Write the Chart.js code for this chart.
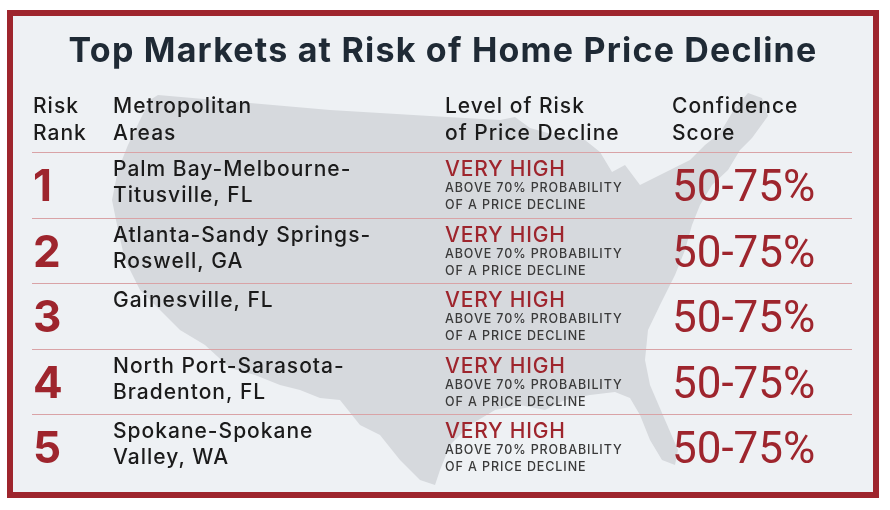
<!DOCTYPE html>
<html>
<head>
<meta charset="utf-8">
<script src="https://cdn.jsdelivr.net/npm/chart.js@4"></script>
<style>
  html, body { margin: 0; padding: 0; background: #fff; }
  #wrap { width: 890px; height: 510px; position: relative; }
</style>
</head>
<body>
<div id="wrap"><canvas id="riskChart"></canvas></div>
<script>
const chartTitle = 'Top Markets at Risk of Home Price Decline';
const headerLabels = [['Risk', 'Rank'], ['Metropolitan', 'Areas'], ['Level of Risk', 'of Price Decline'], ['Confidence', 'Score']];
const ranks = ['1', '2', '3', '4', '5'];
const metroAreas = [
    ['Palm Bay-Melbourne-', 'Titusville, FL'],
    ['Atlanta-Sandy Springs-', 'Roswell, GA'],
    ['Gainesville, FL'],
    ['North Port-Sarasota-', 'Bradenton, FL'],
    ['Spokane-Spokane', 'Valley, WA']
];
const riskLevels = ['VERY HIGH', 'VERY HIGH', 'VERY HIGH', 'VERY HIGH', 'VERY HIGH'];
const riskNotes = ['ABOVE 70% PROBABILITY', 'OF A PRICE DECLINE'];
const confidenceLow = [50, 50, 50, 50, 50];
const confidenceHigh = [75, 75, 75, 75, 75];

const RED = '#9e252d';
const DARK = '#1f2a35';
const FONT = 'Inter, "Noto Sans", sans-serif';

// rough outline of the lower 48, only used as a faded backdrop
const usOutline = [
    [158, 95], [250, 103], [330, 110], [430, 116], [500, 120], [515, 117], [530, 128], [555, 135],
    [585, 140], [600, 152], [612, 172], [625, 165], [640, 185], [660, 175], [690, 160], [705, 145],
    [720, 133], [735, 108], [748, 93], [762, 98], [768, 116], [752, 138], [740, 150], [728, 170],
    [712, 185], [700, 205], [692, 225], [685, 250], [675, 275], [660, 305], [648, 330], [645, 360],
    [650, 385], [665, 420], [678, 450], [675, 465], [662, 460], [650, 440], [640, 415], [630, 398],
    [615, 392], [590, 395], [565, 400], [545, 410], [520, 405], [495, 410], [470, 425], [450, 445],
    [440, 470], [435, 485], [420, 480], [400, 460], [380, 435], [360, 425], [340, 400], [320, 398],
    [300, 390], [280, 385], [255, 375], [230, 368], [205, 345], [180, 330], [160, 310], [140, 290],
    [125, 260], [118, 230], [112, 200], [118, 170], [128, 145], [140, 120], [150, 100]
];

function spaced(ctx, px) {
    if ('letterSpacing' in ctx) ctx.letterSpacing = px + 'px';
}

const tablePlugin = {
    id: 'tablePlugin',
    beforeDraw(chart) {
        const ctx = chart.ctx;
        ctx.save();
        ctx.fillStyle = '#ffffff';
        ctx.fillRect(0, 0, chart.width, chart.height);
        ctx.fillStyle = '#eef1f4';
        ctx.fillRect(10, 13, 866, 482);

        ctx.fillStyle = '#d6d9dd';
        ctx.beginPath();
        usOutline.forEach(([x, y], i) => i ? ctx.lineTo(x, y) : ctx.moveTo(x, y));
        ctx.closePath();
        ctx.fill();

        ctx.strokeStyle = RED;
        ctx.lineWidth = 6;
        ctx.strokeRect(10, 13, 866, 482);
        ctx.restore();
    },
    afterDatasetsDraw(chart) {
        const ctx = chart.ctx;
        const area = chart.chartArea;
        const yScale = chart.scales.y;
        const rowH = (area.bottom - area.top) / ranks.length;
        const cols = [area.left + 1, area.left + 81, area.left + 413, area.left + 640];

        ctx.save();
        ctx.textBaseline = 'alphabetic';
        ctx.textAlign = 'left';
        ctx.fillStyle = DARK;
        ctx.font = 'bold 34px ' + FONT;
        spaced(ctx, 1.2);
        const tw = ctx.measureText(chartTitle).width;
        ctx.fillText(chartTitle, 443 - tw / 2, 62);

        ctx.fillStyle = '#1b1b1b';
        ctx.font = '500 21px ' + FONT;
        spaced(ctx, 1);
        headerLabels.forEach((lines, c) => {
            lines.forEach((t, j) => ctx.fillText(t, cols[c], 113 + j * 27));
        });

        ranks.forEach((rank, i) => {
            const top = yScale.getPixelForValue(i) - rowH / 2;

            ctx.strokeStyle = '#d9a3a6';
            ctx.lineWidth = 1;
            ctx.beginPath();
            ctx.moveTo(area.left, Math.round(top) + 0.5);
            ctx.lineTo(area.right, Math.round(top) + 0.5);
            ctx.stroke();

            ctx.fillStyle = RED;
            ctx.font = 'bold 44px ' + FONT;
            spaced(ctx, 0);
            ctx.fillText(rank, cols[0], top + 49);

            ctx.fillStyle = '#1b1b1b';
            ctx.font = '500 21px ' + FONT;
            spaced(ctx, 1);
            metroAreas[i].forEach((t, j) => ctx.fillText(t, cols[1], top + 24 + j * 26));

            ctx.fillStyle = RED;
            ctx.font = '500 21px ' + FONT;
            spaced(ctx, 0.8);
            ctx.fillText(riskLevels[i], cols[2], top + 24);
            ctx.fillStyle = '#3a3a3a';
            ctx.font = '500 12.5px ' + FONT;
            spaced(ctx, 0.9);
            riskNotes.forEach((t, j) => ctx.fillText(t, cols[2], top + 40 + j * 17));

            ctx.fillStyle = RED;
            ctx.font = '44px Roboto, ' + FONT;
            spaced(ctx, 0);
            ctx.fillText(confidenceLow[i] + '-' + confidenceHigh[i] + '%', cols[3], top + 49);
        });
        ctx.restore();
    }
};

new Chart(document.getElementById('riskChart').getContext('2d'), {
    type: 'bar',
    data: {
        labels: ranks,
        datasets: [{
            data: ranks.map((r, i) => [confidenceLow[i], confidenceHigh[i]]),
            backgroundColor: 'rgba(0,0,0,0)',
            borderWidth: 0
        }]
    },
    options: {
        indexAxis: 'y',
        responsive: true,
        maintainAspectRatio: false,
        animation: false,
        layout: { padding: { left: 32, right: 38, top: 152, bottom: 30 } },
        plugins: {
            legend: { display: false },
            tooltip: { enabled: false }
        },
        scales: {
            x: { display: false, min: 0, max: 100 },
            y: { display: false }
        }
    },
    plugins: [tablePlugin]
});
</script>
</body>
</html>
